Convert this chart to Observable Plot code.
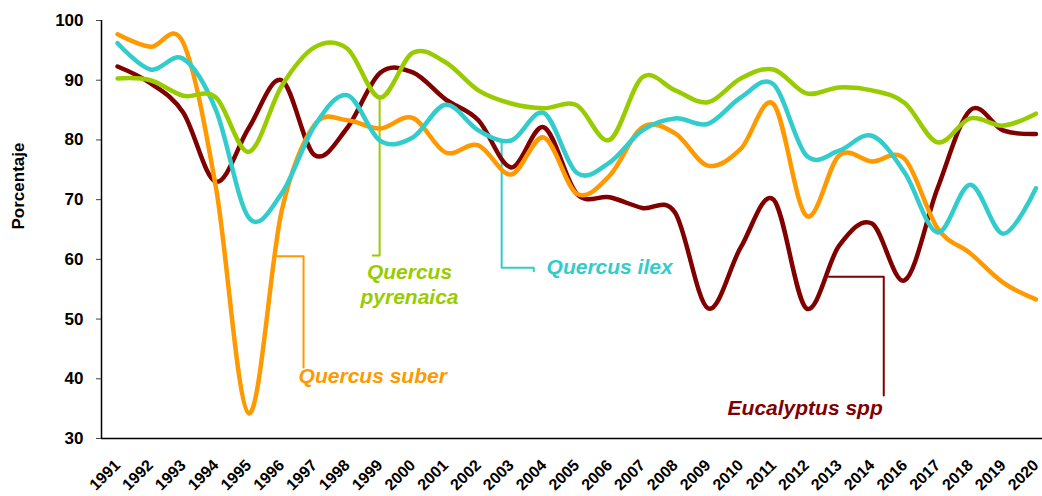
<!DOCTYPE html>
<html><head><meta charset="utf-8">
<script src="https://cdn.jsdelivr.net/npm/d3@7"></script>
<script src="https://cdn.jsdelivr.net/npm/@observablehq/plot@0.6"></script>
<style>body{margin:0;background:#fff}</style>
</head><body><div id="chart"></div>
<script>
const years = ["1991","1992","1993","1994","1995","1996","1997","1998","1999","2000",
  "2001","2002","2003","2004","2005","2006","2007","2008","2009","2010",
  "2011","2012","2013","2014","2016","2017","2018","2019","2020"];
const suber = [97.7,95.6,96.3,72,34.2,68,82.5,83.3,81.9,83.7,
  77.9,79.1,74.2,80.4,71.0,74.0,82.1,81.1,75.7,78.5,
  86,67.3,77.4,76.4,76.8,65.2,61.0,56.1,53.3];
const ilex = [96.2,91.8,93.6,85,67,71,82.3,87.5,79.9,80.4,
  85.9,81.6,79.9,84.5,74.5,76.2,81.6,83.6,82.7,87.1,
  89.3,77.4,78.2,80.7,74.5,64.5,72.5,64.3,71.9];
const pyrenaica = [90.3,90.0,87.4,87.1,78.0,89,95.5,95.3,87.1,94.6,
  93.0,88.3,86.1,85.3,85.8,80,90.5,88.3,86.3,90.3,
  91.8,87.8,88.8,88.3,86.2,79.6,83.6,82.4,84.4];
const eucalyptus = [92.3,89.5,84.6,73,82,90,77.5,82,91.2,91.3,
  86.8,83.3,75.4,82.1,71,70.4,68.6,67.8,51.8,62,
  70,51.8,62.3,66.0,56.5,71.9,85,81.6,81.0];
const seriesNames = ["Eucalyptus spp","Quercus suber","Quercus ilex","Quercus pyrenaica"];
const seriesColors = ["#800000","#FF9900","#33CCCC","#99CC00"];
const yTicks = [30,40,50,60,70,80,90,100];

// label placements (x in category index units, y in percent)
const labelText = ["Eucalyptus spp","Quercus suber","Quercus ilex","Quercus\npyrenaica"];
const labelX = [23.33,5.52,13.08,8.9];
const labelY = [35.0,40.4,58.6,56.0];
const labelAnchor = ["end","start","start","middle"];
const leaderEucalyptus = [[21.69,57.1],[23.36,57.1],[23.36,37.2]];
const leaderSuber = [[4.85,60.5],[5.67,60.5],[5.67,41.9]];
const leaderIlex = [[11.71,79.8],[11.71,58.6],[12.69,58.6],[12.69,58.0]];
const leaderPyrenaica = [[7.99,87.0],[7.99,60.65],[7.78,60.65]];

const valuesBySeries = [eucalyptus, suber, ilex, pyrenaica];
const rows = seriesNames.flatMap((s, k) => valuesBySeries[k].map((v, i) => ({i, v, s})));
const leaders = [leaderEucalyptus, leaderSuber, leaderIlex, leaderPyrenaica]
  .flatMap((pts, k) => pts.map(([x, y]) => ({x, y, s: seriesNames[k]})));
const labels = labelText.map((t, k) => ({t, x: labelX[k], y: labelY[k], s: seriesNames[k], a: labelAnchor[k]}));

const chart = Plot.plot({
  width: 1042, height: 496,
  marginLeft: 101, marginRight: 0, marginTop: 20, marginBottom: 58,
  style: {fontFamily: "'Liberation Sans', Arial, sans-serif", fontWeight: "bold", background: "#fff"},
  x: {type: "linear", domain: [-0.49, 28.2], axis: null},
  y: {domain: [30, 100], axis: null},
  color: {domain: seriesNames, range: seriesColors},
  marks: [
    Plot.axisY({ticks: yTicks, tickSize: 5, tickPadding: 13, fontSize: 17, label: null, stroke: "#444", color: "#000"}),
    Plot.axisX({ticks: d3.range(years.length), tickFormat: i => years[i], tickRotate: -45, tickSize: 0, tickPadding: 24, fontSize: 16, label: null, color: "#000"}),
    Plot.text(["Porcentaje"], {frameAnchor: "left", dx: -83, rotate: -90, fontSize: 17, fill: "#000"}),
    Plot.line(leaders, {x: "x", y: "y", z: "s", stroke: "s", strokeWidth: 2, curve: "linear"}),
    Plot.line(rows, {x: "i", y: "v", z: "s", stroke: "s", strokeWidth: 4.5, curve: "cardinal", tension: 0}),
    Plot.text(labels.filter(d => d.a === "start"), {x: "x", y: "y", text: "t", fill: "s", textAnchor: "start", fontSize: 21, fontStyle: "italic"}),
    Plot.text(labels.filter(d => d.a === "end"), {x: "x", y: "y", text: "t", fill: "s", textAnchor: "end", fontSize: 21, fontStyle: "italic"}),
    Plot.text(labels.filter(d => d.a === "middle"), {x: "x", y: "y", text: "t", fill: "s", textAnchor: "middle", fontSize: 21, fontStyle: "italic", lineHeight: 1.2}),
    Plot.ruleX([-0.49], {stroke: "#000", strokeWidth: 1.5}),
    Plot.ruleY([30], {stroke: "#000", strokeWidth: 1.5})
  ]
});
document.getElementById("chart").appendChild(chart);
</script>
</body></html>
